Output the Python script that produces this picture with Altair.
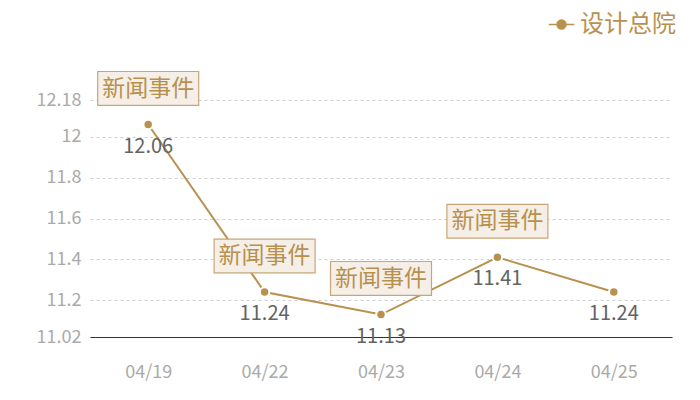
import altair as alt
import pandas as pd

dates = ["04/19", "04/22", "04/23", "04/24", "04/25"]
values = [12.06, 11.24, 11.13, 11.41, 11.24]
events = ["新闻事件", "新闻事件", "新闻事件", "新闻事件", ""]
series = "设计总院"
y_ticks = [11.02, 11.2, 11.4, 11.6, 11.8, 12, 12.18]

GOLD = "#b8914f"
FONT = "Noto Sans CJK SC"

df = pd.DataFrame({"date": dates, "value": values, "event": events, "series": [series] * len(dates)})

x = alt.X("date:N", sort=dates, title=None, scale=alt.Scale(paddingInner=0, paddingOuter=0),
          axis=alt.Axis(labelAngle=0, labelColor="#aaaaaa", labelFontSize=18, labelFont=FONT,
                        labelPadding=26, ticks=False, domainColor="#333333", grid=False))
y = alt.Y("value:Q", title=None, scale=alt.Scale(domain=[11.02, 12.18], nice=False, zero=False),
          axis=alt.Axis(values=y_ticks, labelExpr="format(datum.value, '.4~g')",
                        labelColor="#aaaaaa", labelFontSize=18,
                        labelFont=FONT, ticks=False, domain=False, gridDash=[3, 3],
                        gridColor="#d0d0d0", labelPadding=9, labelFlush=False))

base = alt.Chart(df).encode(x=x, y=y)

line = base.mark_line(color=GOLD, strokeWidth=2)

legend_shape = "M-1,0L1,0M-0.35,0A0.35,0.35 0 1,0 0.35,0A0.35,0.35 0 1,0 -0.35,0Z"

points = base.mark_point(filled=True, size=90, opacity=1, stroke="white", strokeWidth=2,
                         strokeOpacity=1).encode(
    color=alt.Color("series:N", scale=alt.Scale(range=[GOLD]),
                    legend=alt.Legend(title=None, orient="none", legendX=458, legendY=-89,
                                      symbolType=legend_shape, symbolSize=650,
                                      symbolStrokeWidth=1.5, symbolStrokeColor=GOLD,
                                      symbolFillColor=GOLD, labelLimit=200,
                                      labelFont=FONT, labelFontSize=24, labelColor=GOLD,
                                      labelOffset=5))
)

value_text = base.mark_text(dy=22, fontSize=20, font=FONT, color="#636363").encode(
    text=alt.Text("value:Q", format=".2f"))

box_shape = "M-1,-1.05L1,-1.05L1,-0.38L-1,-0.38Z"
boxes = base.transform_filter("datum.event != ''").mark_point(
    shape=box_shape, size=101 * 101, filled=True, fill="#f5efe8", fillOpacity=1,
    stroke="#c9a676", strokeWidth=1.2, strokeOpacity=1, opacity=1)

event_text = base.transform_filter("datum.event != ''").mark_text(
    dy=-36, fontSize=23, font=FONT, color=GOLD).encode(text="event:N")

chart = alt.layer(line, points, value_text, boxes, event_text).properties(
    width=582, height=237,
    autosize=alt.AutoSizeParams(type="none"),
    padding={"left": 82, "top": 92, "right": 20, "bottom": 55},
).configure_view(stroke=None)

chart.save("out.html", embed_options={"renderer": "svg", "actions": False})
